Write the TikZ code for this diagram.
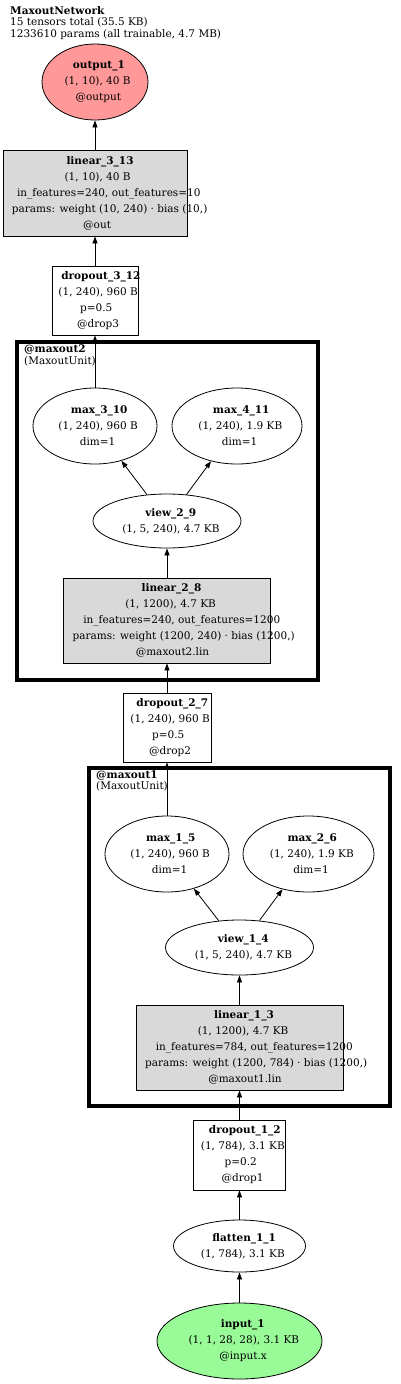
\documentclass[tikz,border=0pt]{standalone}
\usepackage{fontspec}
\setmainfont{DejaVu Serif}
\usetikzlibrary{shapes.geometric,arrows.meta}
\definecolor{outred}{HTML}{FF9999}
\definecolor{ingreen}{HTML}{98FB98}
\definecolor{lingray}{HTML}{D9D9D9}
\newcommand\Lw[1]{\setbox0=\hbox{#1}\kern0.15\wd0\box0}
\newcommand\Ls[1]{\setbox0=\hbox{#1}\kern0.08\wd0\box0}
\tikzset{
  txt/.style={align=center, inner sep=0pt, font=\fontsize{10.5}{16}\selectfont},
  basenode/.style={draw=black, line width=0.8pt, inner sep=0pt},
  ell/.style={basenode, ellipse},
  boxnode/.style={basenode, rectangle},
  lin/.style={boxnode, fill=lingray},
  conn/.style={line width=0.8pt, -{Triangle[length=7pt,width=5pt]}},
  cluster/.style={draw=black, line width=4pt, rectangle, inner sep=0pt},
  clabel/.style={anchor=north west, inner sep=0pt, align=left, font=\fontsize{10.5}{11.5}\selectfont},
}
\begin{document}
\begin{tikzpicture}[x=1pt,y=-1pt]
\useasboundingbox (0,0) rectangle (400,1384);

% title
\node[clabel] (title) at (10,6) {\textbf{MaxoutNetwork}\\15 tensors total (35.5 KB)\\1233610 params (all trainable, 4.7 MB)};

% clusters
\node[cluster, minimum width=301pt, minimum height=338pt] (maxout2) at (167.5,511) {};
\node[clabel] (maxout2lbl) at (24,345) {\textbf{@maxout2}\\(MaxoutUnit)};
\node[cluster, minimum width=300.5pt, minimum height=338.5pt] (maxout1) at (239.25,936.75) {};
\node[clabel] (maxout1lbl) at (96,770) {\textbf{@maxout1}\\(MaxoutUnit)};

% top column
\node[ell, fill=outred, minimum width=106pt, minimum height=76pt,
  label={[txt]center:{\Lw{\textbf{output\_1}}\\\Ls{(1, 10), 40 B}\\\Lw{@output}}}] (output_1) at (95,82) {};
\node[lin, minimum width=184pt, minimum height=86pt,
  label={[txt]center:{\Lw{\textbf{linear\_3\_13}}\\\Ls{(1, 10), 40 B}\\\Lw{in\_features=240, out\_features=10}\\\Lw{params: weight (10, 240) · bias (10,)}\\\Lw{@out}}}] (linear_3_13) at (95,193) {};
\node[boxnode, minimum width=86pt, minimum height=69pt,
  label={[txt]center:{\Lw{\textbf{dropout\_3\_12}}\\\Ls{(1, 240), 960 B}\\\Ls{p=0.5}\\\Lw{@drop3}}}] (dropout_3_12) at (95,300.5) {};

% maxout2
\node[ell, minimum width=124pt, minimum height=76pt,
  label={[txt]center:{\Lw{\textbf{max\_3\_10}}\\\Ls{(1, 240), 960 B}\\\Lw{dim=1}}}] (max_3_10) at (95,426) {};
\node[ell, minimum width=130pt, minimum height=76pt,
  label={[txt]center:{\Lw{\textbf{max\_4\_11}}\\\Ls{(1, 240), 1.9 KB}\\\Lw{dim=1}}}] (max_4_11) at (237,426) {};
\node[ell, minimum width=148pt, minimum height=54pt,
  label={[txt]center:{\Lw{\textbf{view\_2\_9}}\\\Ls{(1, 5, 240), 4.7 KB}}}] (view_2_9) at (167,521) {};
\node[lin, minimum width=207pt, minimum height=85pt,
  label={[txt]center:{\Lw{\textbf{linear\_2\_8}}\\\Ls{(1, 1200), 4.7 KB}\\\Lw{in\_features=240, out\_features=1200}\\\Lw{params: weight (1200, 240) · bias (1200,)}\\\Lw{@maxout2.lin}}}] (linear_2_8) at (167,620.5) {};

\node[boxnode, minimum width=88pt, minimum height=69pt,
  label={[txt]center:{\Lw{\textbf{dropout\_2\_7}}\\\Ls{(1, 240), 960 B}\\\Ls{p=0.5}\\\Lw{@drop2}}}] (dropout_2_7) at (167,727.5) {};

% maxout1
\node[ell, minimum width=124pt, minimum height=76pt,
  label={[txt]center:{\Lw{\textbf{max\_1\_5}}\\\Ls{(1, 240), 960 B}\\\Lw{dim=1}}}] (max_1_5) at (167,854) {};
\node[ell, minimum width=131pt, minimum height=76pt,
  label={[txt]center:{\Lw{\textbf{max\_2\_6}}\\\Ls{(1, 240), 1.9 KB}\\\Lw{dim=1}}}] (max_2_6) at (308.5,854) {};
\node[ell, minimum width=148pt, minimum height=55pt,
  label={[txt]center:{\Lw{\textbf{view\_1\_4}}\\\Ls{(1, 5, 240), 4.7 KB}}}] (view_1_4) at (239.5,947.5) {};
\node[lin, minimum width=207pt, minimum height=85pt,
  label={[txt]center:{\Lw{\textbf{linear\_1\_3}}\\\Ls{(1, 1200), 4.7 KB}\\\Lw{in\_features=784, out\_features=1200}\\\Lw{params: weight (1200, 784) · bias (1200,)}\\\Lw{@maxout1.lin}}}] (linear_1_3) at (239.5,1047.5) {};

% bottom column
\node[boxnode, minimum width=92pt, minimum height=70pt,
  label={[txt]center:{\Lw{\textbf{dropout\_1\_2}}\\\Ls{(1, 784), 3.1 KB}\\\Ls{p=0.2}\\\Lw{@drop1}}}] (dropout_1_2) at (239.5,1155) {};
\node[ell, minimum width=132pt, minimum height=52pt,
  label={[txt]center:{\Lw{\textbf{flatten\_1\_1}}\\\Ls{(1, 784), 3.1 KB}}}] (flatten_1_1) at (239.5,1246) {};
\node[ell, fill=ingreen, minimum width=165pt, minimum height=76pt,
  label={[txt]center:{\Lw{\textbf{input\_1}}\\\Ls{(1, 1, 28, 28), 3.1 KB}\\\Lw{@input.x}}}] (input_1) at (239.5,1341) {};

% edges
\draw[conn] (input_1) -- (flatten_1_1);
\draw[conn] (flatten_1_1) -- (dropout_1_2);
\draw[conn] (dropout_1_2) -- (linear_1_3);
\draw[conn] (linear_1_3) -- (view_1_4);
\draw[conn] (view_1_4) -- (max_1_5);
\draw[conn] (view_1_4) -- (max_2_6);
\draw[conn] (max_1_5) -- (dropout_2_7);
\draw[conn] (dropout_2_7) -- (linear_2_8);
\draw[conn] (linear_2_8) -- (view_2_9);
\draw[conn] (view_2_9) -- (max_3_10);
\draw[conn] (view_2_9) -- (max_4_11);
\draw[conn] (max_3_10) -- (dropout_3_12);
\draw[conn] (dropout_3_12) -- (linear_3_13);
\draw[conn] (linear_3_13) -- (output_1);
\end{tikzpicture}
\end{document}
